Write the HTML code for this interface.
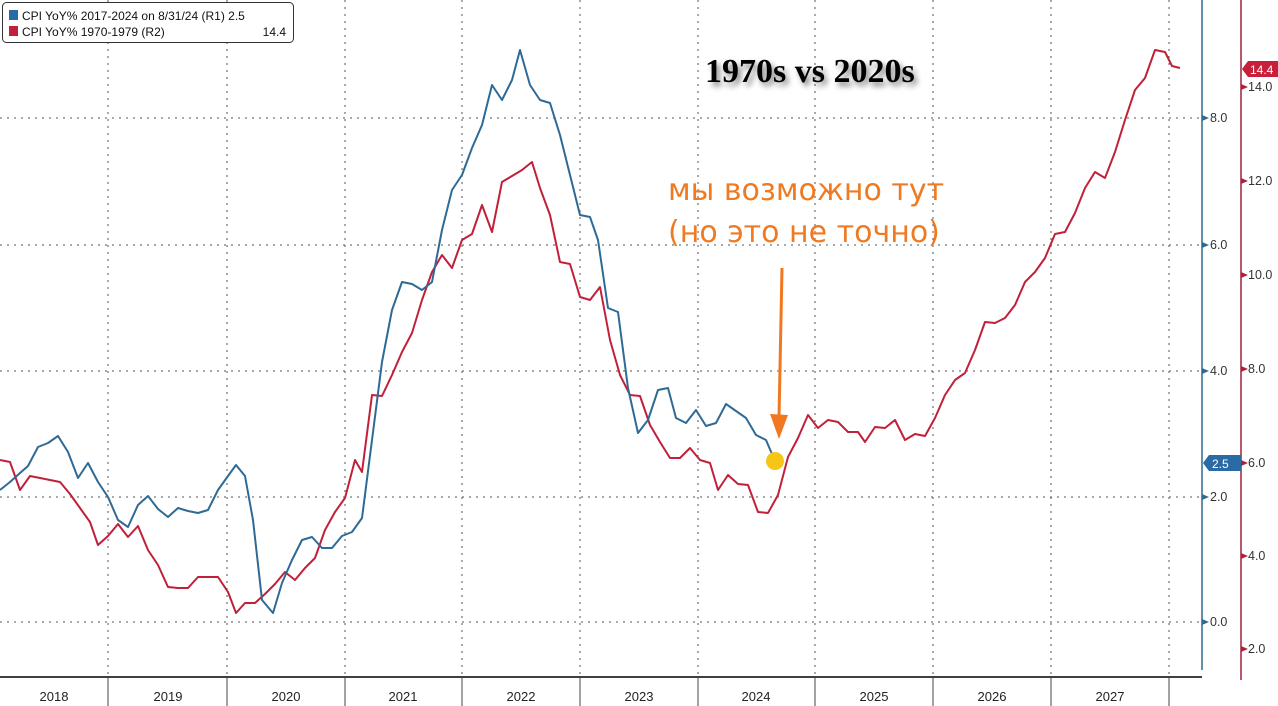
<!DOCTYPE html>
<html><head><meta charset="utf-8"><style>
body{margin:0;background:#fff;width:1278px;height:706px;overflow:hidden}
svg{display:block}
</style></head><body>
<svg width="1278" height="706" xmlns="http://www.w3.org/2000/svg" font-family="Liberation Sans, sans-serif">
<defs><filter id="sh" x="-10%" y="-30%" width="130%" height="180%"><feGaussianBlur in="SourceAlpha" stdDeviation="3"/><feOffset dx="3" dy="4"/><feComponentTransfer><feFuncA type="linear" slope="0.5"/></feComponentTransfer><feMerge><feMergeNode/><feMergeNode in="SourceGraphic"/></feMerge></filter></defs>
<g stroke="#555" stroke-width="1" stroke-dasharray="2,5">
<line x1="0" y1="118" x2="1202" y2="118"/><line x1="0" y1="245" x2="1202" y2="245"/><line x1="0" y1="371" x2="1202" y2="371"/><line x1="0" y1="497" x2="1202" y2="497"/><line x1="0" y1="622" x2="1202" y2="622"/>
<line x1="108" y1="0" x2="108" y2="677"/><line x1="227" y1="0" x2="227" y2="677"/><line x1="345" y1="0" x2="345" y2="677"/><line x1="462" y1="0" x2="462" y2="677"/><line x1="580" y1="0" x2="580" y2="677"/><line x1="698" y1="0" x2="698" y2="677"/><line x1="815" y1="0" x2="815" y2="677"/><line x1="933" y1="0" x2="933" y2="677"/><line x1="1051" y1="0" x2="1051" y2="677"/><line x1="1169" y1="0" x2="1169" y2="677"/>
</g>
<line x1="0" y1="677" x2="1202" y2="677" stroke="#000" stroke-width="1.5"/>
<g stroke="#444" stroke-width="1">
<line x1="108" y1="677" x2="108" y2="706"/><line x1="227" y1="677" x2="227" y2="706"/><line x1="345" y1="677" x2="345" y2="706"/><line x1="462" y1="677" x2="462" y2="706"/><line x1="580" y1="677" x2="580" y2="706"/><line x1="698" y1="677" x2="698" y2="706"/><line x1="815" y1="677" x2="815" y2="706"/><line x1="933" y1="677" x2="933" y2="706"/><line x1="1051" y1="677" x2="1051" y2="706"/><line x1="1169" y1="677" x2="1169" y2="706"/>
</g>
<g font-family="Liberation Sans Narrow, Liberation Sans, sans-serif" font-size="13" fill="#222" text-anchor="middle">
<text x="54" y="701">2018</text><text x="168" y="701">2019</text><text x="286" y="701">2020</text><text x="403" y="701">2021</text><text x="521" y="701">2022</text><text x="639" y="701">2023</text><text x="756" y="701">2024</text><text x="874" y="701">2025</text><text x="992" y="701">2026</text><text x="1110" y="701">2027</text>
</g>
<line x1="1202" y1="0" x2="1202" y2="670" stroke="#2f6a8e" stroke-width="1.5"/>
<line x1="1241" y1="0" x2="1241" y2="680" stroke="#a0203a" stroke-width="1.5"/>
<g font-size="12.5" fill="#333">
<text x="1210" y="122">8.0</text><text x="1210" y="249">6.0</text><text x="1210" y="375">4.0</text><text x="1210" y="501">2.0</text><text x="1210" y="626">0.0</text>
<text x="1248" y="91">14.0</text><text x="1248" y="185">12.0</text><text x="1248" y="279">10.0</text><text x="1248" y="373">8.0</text><text x="1248" y="467">6.0</text><text x="1248" y="560">4.0</text><text x="1248" y="653">2.0</text>
</g>
<g fill="#2f6a8e"><path d="M1202 115l7 3-7 3z"/><path d="M1202 242l7 3-7 3z"/><path d="M1202 368l7 3-7 3z"/><path d="M1202 494l7 3-7 3z"/><path d="M1202 619l7 3-7 3z"/></g>
<g fill="#b0203a"><path d="M1241 84l7 3-7 3z"/><path d="M1241 178l7 3-7 3z"/><path d="M1241 272l7 3-7 3z"/><path d="M1241 366l7 3-7 3z"/><path d="M1241 460l7 3-7 3z"/><path d="M1241 553l7 3-7 3z"/><path d="M1241 646l7 3-7 3z"/></g>
<path d="M1203 463l6-8h32v16h-32z" fill="#2a6aa5"/><text x="1212" y="468" font-size="12" fill="#fff">2.5</text>
<path d="M1242 69l6-8h30v16h-30z" fill="#c8203a"/><text x="1250" y="74" font-size="12" fill="#fff">14.4</text>
<polyline fill="none" stroke="#c0203a" stroke-width="2" stroke-linejoin="round" points="0,460 10,462 20,490 30,476 40,478 50,480 60,482 70,494 80,508 90,522 98,545 108,536 118,524 128,537 138,526 148,550 158,565 168,587 178,588 188,588 198,577 208,577 218,577 228,592 236,613 245,603 255,603 265,594 275,584 285,572 295,580 305,568 315,558 325,530 335,512 345,498 355,460 362,472 372,395 382,396 392,375 402,352 412,333 422,300 432,272 442,255 452,268 462,240 472,234 482,205 492,232 502,182 512,176 522,170 532,162 540,188 550,215 560,262 570,264 580,297 590,300 600,287 610,340 620,375 630,395 640,396 650,425 660,442 670,458 680,458 690,448 700,460 710,463 718,490 728,475 738,484 748,485 758,512 768,513 778,495 788,457 798,438 808,415 818,428 828,420 838,422 848,432 858,432 865,442 875,427 885,428 895,420 905,440 915,434 925,436 935,418 945,395 955,380 965,373 975,350 985,322 995,323 1005,318 1015,305 1025,282 1035,272 1045,258 1055,234 1065,232 1075,213 1085,188 1095,172 1105,178 1115,152 1125,120 1135,90 1145,78 1155,50 1165,52 1172,66 1180,68"/>
<polyline fill="none" stroke="#2f6a95" stroke-width="2" stroke-linejoin="round" points="0,490 10,482 20,473 28,466 38,447 48,443 58,436 68,452 78,478 88,463 98,482 108,497 118,520 128,527 138,505 148,496 158,509 168,517 178,508 188,511 198,513 208,510 218,490 228,476 236,465 245,476 253,520 262,600 273,613 282,583 292,560 302,540 312,537 322,548 332,548 342,536 352,532 362,518 372,440 382,362 392,310 402,282 412,284 422,290 432,282 442,230 452,190 462,175 472,148 482,125 492,85 502,100 512,80 520,50 530,85 540,100 550,103 560,135 570,175 580,215 590,217 598,240 608,308 618,312 628,388 638,433 648,420 658,390 668,388 676,418 686,423 696,410 706,426 716,423 726,404 736,411 746,418 756,435 766,440 775,461"/>
<circle cx="775" cy="461" r="9" fill="#f5c518"/>
<line x1="782" y1="268" x2="779" y2="418" stroke="#f07820" stroke-width="3"/>
<path d="M770 414l18 1-9 24z" fill="#f07820"/>
<text x="705" y="82" font-family="Liberation Serif, serif" font-weight="bold" font-size="34" fill="#000" filter="url(#sh)">1970s vs 2020s</text>
<g font-family="DejaVu Sans, sans-serif" font-size="30" fill="#f07a22"><text x="668" y="200">мы возможно тут</text><text x="668" y="242">(но это не точно)</text></g>
<rect x="2.5" y="2.5" width="291" height="40" rx="4" fill="#fff" stroke="#333"/>
<rect x="9" y="10" width="9" height="10" fill="#2a6aa5"/><rect x="9" y="26" width="9" height="10" fill="#c0203a"/>
<g font-size="12" fill="#111"><text x="22" y="20">CPI YoY% 2017-2024 on 8/31/24 (R1)  2.5</text><text x="22" y="36">CPI YoY% 1970-1979 (R2)</text><text x="286" y="36" text-anchor="end">14.4</text></g>
</svg>
</body></html>
